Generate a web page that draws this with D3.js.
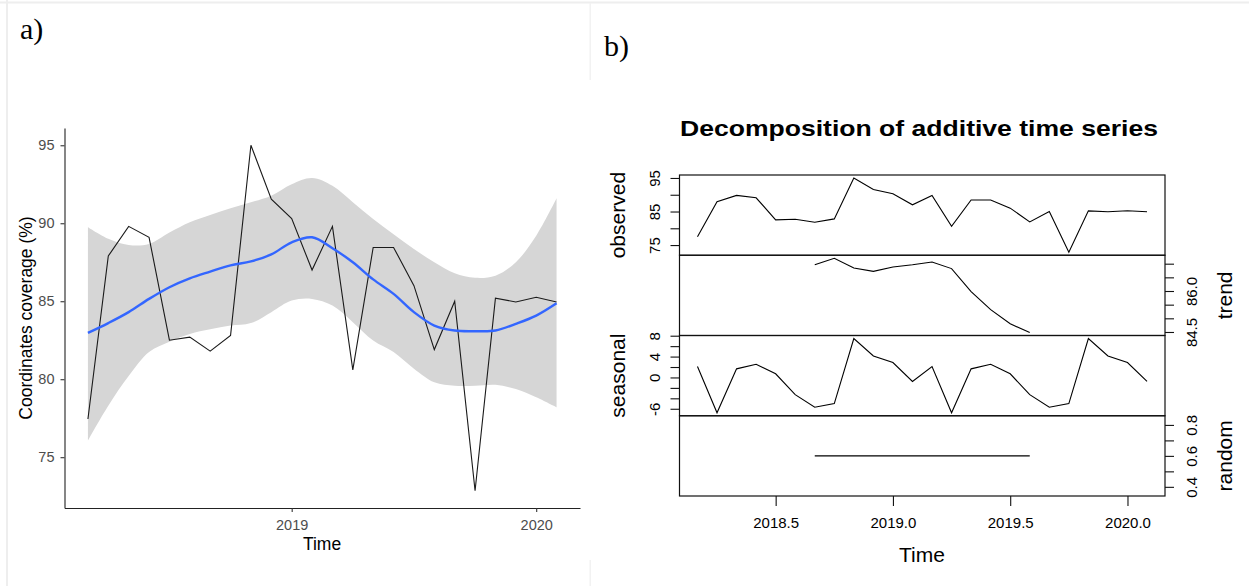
<!DOCTYPE html>
<html lang="en">
<head>
<meta charset="utf-8">
<title>Coordinates coverage over time</title>
<script src="https://d3js.org/d3.v7.min.js"></script>
<style>
  body { margin: 0; background: #fff; }
  svg text { font-family: "Liberation Sans", Arial, sans-serif; }
</style>
</head>
<body>
<div id="chart"></div>
<script>
// monthly time index, decimal years (Mar 2018 .. Feb 2020)
var times = [2018.1667, 2018.25, 2018.3333, 2018.4167, 2018.5, 2018.5833,
             2018.6667, 2018.75, 2018.8333, 2018.9167, 2019.0, 2019.0833,
             2019.1667, 2019.25, 2019.3333, 2019.4167, 2019.5, 2019.5833,
             2019.6667, 2019.75, 2019.8333, 2019.9167, 2020.0, 2020.0833];

// coordinates coverage (%)
var observed = [77.45, 87.9, 89.8, 89.1, 82.5, 82.7, 81.8, 82.8, 95.0, 91.55, 90.3, 87.0,
                89.8, 80.6, 88.45, 88.45, 86.0, 81.9, 85.0, 72.85, 85.2, 84.95, 85.25, 84.95];

// loess fit and its confidence band (panel a)
var smoothFit   = [82.97, 83.6, 84.3, 85.15, 85.9, 86.47, 86.9, 87.3, 87.55, 88.0, 88.78, 89.1,
                   88.4, 87.5, 86.4, 85.47, 84.3, 83.44, 83.12, 83.08, 83.12, 83.55, 84.08, 84.87];
var smoothLower = [76.06, 78.3, 80.2, 81.74, 82.4, 82.9, 83.2, 83.44, 83.6, 84.3, 85.04, 85.15,
                   84.72, 83.66, 82.48, 81.74, 80.67, 79.8, 79.58, 79.58, 79.64, 79.37, 78.84, 78.2];
var smoothUpper = [89.74, 89.0, 88.6, 88.67, 89.4, 90.06, 90.53, 90.96, 91.35, 91.77, 92.5, 92.9,
                   92.4, 91.35, 90.27, 89.3, 88.35, 87.5, 86.8, 86.5, 86.64, 87.5, 89.2, 91.6];

// additive decomposition (panel b)
var trend    = [null, null, null, null, null, null,
                86.96, 87.2, 86.84, 86.72, 86.88, 86.96, 87.06, 86.82, 85.98, 85.32, 84.8, 84.48,
                null, null, null, null, null, null];
var seasonal = [2.09, -6.77, 1.65, 2.53, 0.70, -3.29, -5.7, -5.0, 7.47, 4.11, 2.85, -0.76,
                2.09, -6.77, 1.65, 2.53, 0.70, -3.29, -5.7, -5.0, 7.47, 4.11, 2.85, -0.76];
var random   = [null, null, null, null, null, null,
                0.6, 0.6, 0.6, 0.6, 0.6, 0.6, 0.6, 0.6, 0.6, 0.6, 0.6, 0.6,
                null, null, null, null, null, null];

// tick values / labels
var ggYTicks = [75, 80, 85, 90, 95];
var ggXTicks = [2019, 2020];
var decompXTicks = [2018.5, 2019.0, 2019.5, 2020.0];
var obsTicks = [75, 80, 85, 90, 95],            obsLabels = [75, 85, 95];
var trendTicks = [84.5, 85, 85.5, 86, 86.5, 87], trendLabels = [84.5, 86];
var seasTicks = [-6, -4, -2, 0, 2, 4, 6, 8],    seasLabels = [-6, 0, 4, 8];
var randTicks = [0.4, 0.5, 0.6, 0.7, 0.8],      randLabels = [0.4, 0.6, 0.8];

var svg = d3.select("#chart").append("svg")
    .attr("width", 1249)
    .attr("height", 586);

// faint page frame
svg.append("rect").attr("x", 0).attr("y", 1.5).attr("width", 1249).attr("height", 2).attr("fill", "#eeeeee");
svg.append("rect").attr("x", 6).attr("y", 0).attr("width", 2).attr("height", 586).attr("fill", "#eeeeee");
svg.append("rect").attr("x", 589.5).attr("y", 3).attr("width", 1.5).attr("height", 77).attr("fill", "#f2f2f2");
svg.append("rect").attr("x", 589.5).attr("y", 560).attr("width", 1.5).attr("height", 26).attr("fill", "#f2f2f2");

svg.append("text").attr("x", 20).attr("y", 39).text("a)")
    .style("font-family", "'Liberation Serif', 'Times New Roman', serif").style("font-size", "30px");
svg.append("text").attr("x", 604).attr("y", 56).text("b)")
    .style("font-family", "'Liberation Serif', 'Times New Roman', serif").style("font-size", "30px");

// ---------------- panel a: ggplot style ----------------
function ggPad(e) { var p = (e[1] - e[0]) * 0.05; return [e[0] - p, e[1] + p]; }

var rows = times.map(function(t, i) {
  return {t: t, v: observed[i], fit: smoothFit[i], lo: smoothLower[i], hi: smoothUpper[i]};
});

var gx = d3.scaleLinear().domain(ggPad(d3.extent(times))).range([64.5, 580]);
var gy = d3.scaleLinear()
    .domain(ggPad([d3.min(observed.concat(smoothLower)), d3.max(observed.concat(smoothUpper))]))
    .range([508, 128]);

var ga = svg.append("g");

ga.append("path")
    .datum(rows)
    .attr("fill", "#d6d6d6")
    .attr("d", d3.area()
      .x(function(d) { return gx(d.t); })
      .y0(function(d) { return gy(d.lo); })
      .y1(function(d) { return gy(d.hi); })
      .curve(d3.curveCatmullRom));

ga.append("path")
    .datum(rows)
    .attr("fill", "none")
    .attr("stroke", "#1a1a1a")
    .attr("stroke-width", 1.1)
    .attr("d", d3.line()
      .x(function(d) { return gx(d.t); })
      .y(function(d) { return gy(d.v); }));

ga.append("path")
    .datum(rows)
    .attr("fill", "none")
    .attr("stroke", "#3366FF")
    .attr("stroke-width", 2.4)
    .attr("d", d3.line()
      .x(function(d) { return gx(d.t); })
      .y(function(d) { return gy(d.fit); })
      .curve(d3.curveCatmullRom));

var gxAxis = ga.append("g")
    .attr("transform", "translate(0,508)")
    .call(d3.axisBottom(gx).tickValues(ggXTicks).tickSize(4).tickSizeOuter(0).tickPadding(7.5)
      .tickFormat(d3.format("d")));
var gyAxis = ga.append("g")
    .attr("transform", "translate(64.5,0)")
    .call(d3.axisLeft(gy).tickValues(ggYTicks).tickSize(4).tickSizeOuter(0).tickPadding(6));

[gxAxis, gyAxis].forEach(function(a) {
  a.select(".domain").attr("stroke", "#222").attr("stroke-width", 1.1);
  a.selectAll(".tick line").attr("stroke", "#333").attr("stroke-width", 1.1);
  a.selectAll(".tick text").attr("fill", "#4d4d4d").style("font-size", "14.5px");
});

ga.append("text")
    .attr("x", 322).attr("y", 550)
    .attr("text-anchor", "middle")
    .style("font-size", "17.5px")
    .text("Time");

ga.append("text")
    .attr("transform", "translate(32,318) rotate(-90)")
    .attr("text-anchor", "middle")
    .style("font-size", "17.5px")
    .text("Coordinates coverage (%)");

// ---------------- panel b: decompose() plot ----------------
function rLim(vals) {
  var e = d3.extent(vals.filter(function(v) { return v != null; }));
  if (e[0] === e[1]) {
    var d = e[0] === 0 ? 1 : 0.4 * Math.abs(e[0]);
    e = [e[0] - d, e[1] + d];
  }
  var p = (e[1] - e[0]) * 0.04;
  return [e[0] - p, e[1] + p];
}
function rNum(d) { return String(d); }

var panels = [
  {name: "observed", values: observed, ticks: obsTicks,   labels: obsLabels,   side: "left",  fmt: rNum},
  {name: "trend",    values: trend,    ticks: trendTicks, labels: trendLabels, side: "right", fmt: d3.format(".1f")},
  {name: "seasonal", values: seasonal, ticks: seasTicks,  labels: seasLabels,  side: "left",  fmt: rNum},
  {name: "random",   values: random,   ticks: randTicks,  labels: randLabels,  side: "right", fmt: d3.format(".1f")}
];

var boxL = 679.5, boxR = 1165, top0 = 175, panelH = 80.25;
var rx = d3.scaleLinear().domain(rLim(times)).range([boxL, boxR]);

var gb = svg.append("g");

// the title in the source is drawn wider than its height suggests
gb.append("text")
    .attr("x", 680).attr("y", 136)
    .attr("textLength", 478)
    .attr("lengthAdjust", "spacingAndGlyphs")
    .style("font-size", "22px")
    .style("font-weight", "bold")
    .text("Decomposition of additive time series");

panels.forEach(function(p, i) {
  var y0 = top0 + i * panelH;
  var y = d3.scaleLinear().domain(rLim(p.values)).range([y0 + panelH, y0]);

  gb.append("path")
      .datum(p.values.map(function(v, j) { return {t: times[j], v: v}; }))
      .attr("fill", "none")
      .attr("stroke", "#000")
      .attr("stroke-width", 1.1)
      .attr("d", d3.line()
        .defined(function(d) { return d.v != null; })
        .x(function(d) { return rx(d.t); })
        .y(function(d) { return y(d.v); }));

  gb.append("rect")
      .attr("x", boxL).attr("y", y0)
      .attr("width", boxR - boxL).attr("height", panelH)
      .attr("fill", "none")
      .attr("stroke", "#111")
      .attr("stroke-width", 1.2);

  var left = p.side === "left";
  var axis = (left ? d3.axisLeft(y) : d3.axisRight(y))
      .tickValues(p.ticks).tickSize(9).tickSizeOuter(0)
      .tickFormat(function(d) { return p.labels.indexOf(d) >= 0 ? p.fmt(d) : ""; });
  var ag = gb.append("g")
      .attr("transform", "translate(" + (left ? boxL : boxR) + ",0)")
      .call(axis);
  ag.select(".domain").remove();
  ag.selectAll(".tick line").attr("stroke", "#111").attr("stroke-width", 1.1);
  ag.selectAll(".tick text")
      .attr("x", null).attr("y", null).attr("dy", null)
      .attr("transform", "translate(" + (left ? -19.5 : 32) + ",0) rotate(-90)")
      .attr("text-anchor", "middle")
      .attr("fill", "#000")
      .style("font-size", "15px");

  gb.append("text")
      .attr("transform", "translate(" + (left ? 625 : 1231.5) + "," + (y0 + panelH / 2) + ") rotate(-90)")
      .attr("text-anchor", "middle")
      .style("font-size", "21px")
      .text(p.name);
});

var bottom = top0 + 4 * panelH;
var bx = gb.append("g")
    .attr("transform", "translate(0," + bottom + ")")
    .call(d3.axisBottom(rx).tickValues(decompXTicks).tickSize(10).tickSizeOuter(0).tickPadding(11)
      .tickFormat(d3.format(".1f")));
bx.select(".domain").remove();
bx.selectAll(".tick line").attr("stroke", "#111").attr("stroke-width", 1.1);
bx.selectAll(".tick text").attr("fill", "#000").style("font-size", "15px");

gb.append("text")
    .attr("x", 922).attr("y", 561.5)
    .attr("text-anchor", "middle")
    .style("font-size", "21px")
    .text("Time");
</script>
</body>
</html>
